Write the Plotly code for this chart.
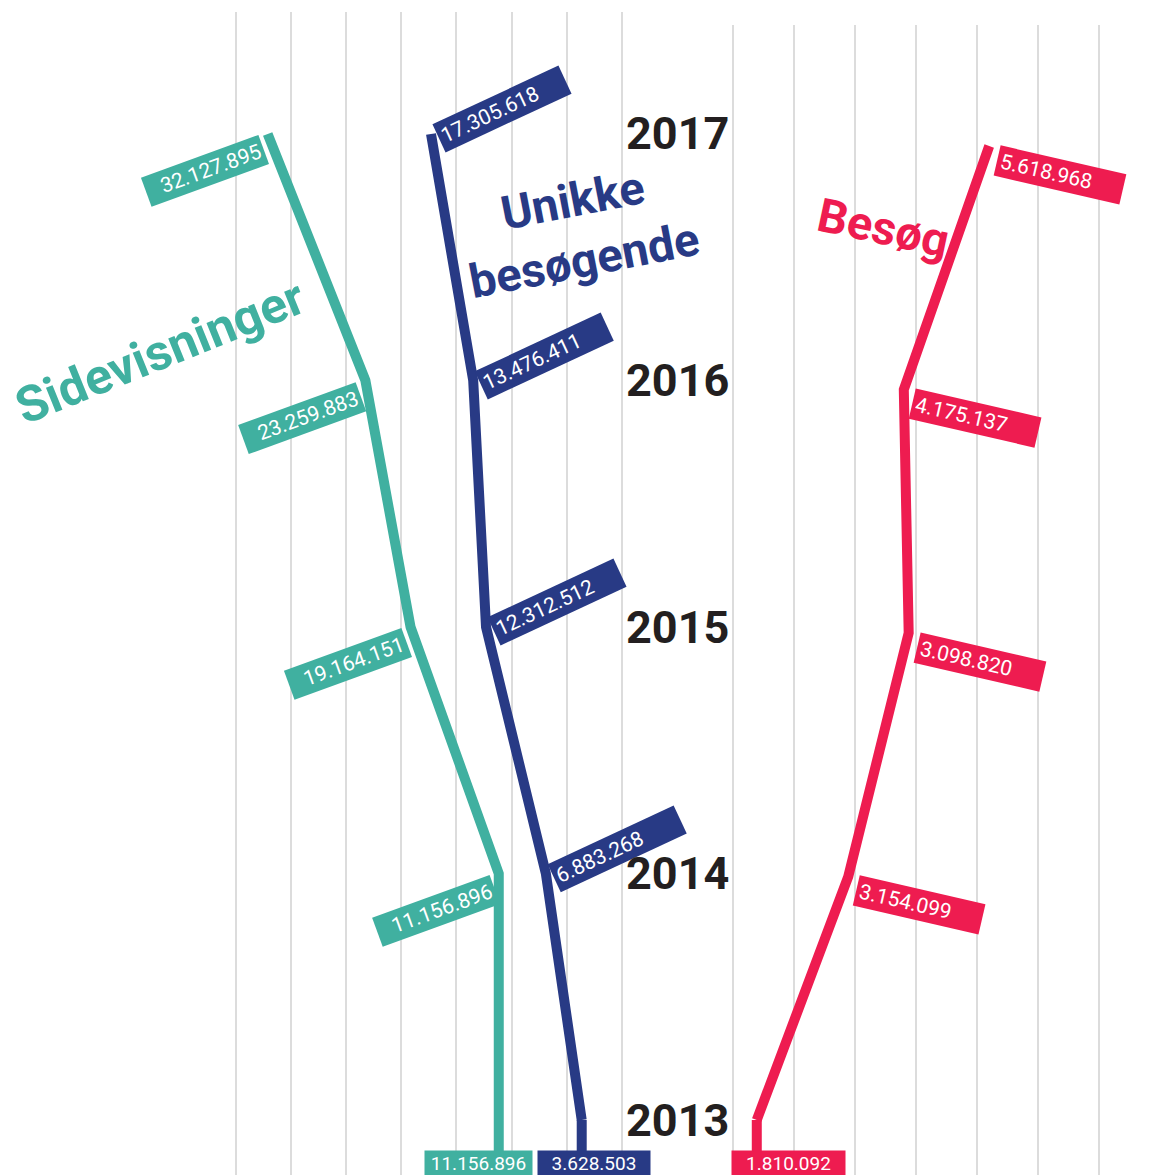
import plotly.graph_objects as go

# ---------------- data ----------------
years = [2013, 2014, 2015, 2016, 2017]
year_labels = ["2013", "2014", "2015", "2016", "2017"]

# Sidevisninger (millions, as drawn)
sidevisninger = [11.157, 11.157, 19.164, 23.260, 32.128]
sidevisninger_labels = ["11.156.896", "11.156.896", "19.164.151", "23.259.883", "32.127.895"]

# Unikke besøgende (millions, as drawn)
unikke = [3.629, 6.883, 12.313, 13.476, 17.306]
unikke_labels = ["3.628.503", "6.883.268", "12.312.512", "13.476.411", "17.305.618"]

# Besøg (millions, positions as drawn in the chart)
besog = [1.80, 3.30, 4.29, 4.21, 5.61]
besog_labels = ["1.810.092", "3.154.099", "3.098.820", "4.175.137", "5.618.968"]

left_ticks = [0, 5, 10, 15, 20, 25, 30, 35]
right_ticks = [1.41, 2.41, 3.41, 4.41, 5.41, 6.41, 7.41]

# ---------------- style ----------------
TEAL = "#40B0A0"
NAVY = "#283A85"
RED = "#EE1C50"
DARK = "#231F20"
GRID = "#DCDCDC"
W, H = 1149, 1175
LABEL_FONT = "Roboto, 'DejaVu Sans Condensed', sans-serif"
TITLE_FONT = "Roboto, 'DejaVu Sans', sans-serif"

y_left_range = [2012.7769, 2017.4949]
y_right_range = [2012.7741, 2017.4969]

fig = go.Figure()

def add_series(vals, color, xa, ya, yrange):
    fig.add_trace(go.Scatter(x=vals, y=years, mode="lines", xaxis=xa, yaxis=ya,
                             line=dict(color=color, width=10), hoverinfo="skip",
                             showlegend=False))
    # vertical stub from 2013 down to the bottom value box
    fig.add_trace(go.Scatter(x=[vals[0], vals[0]], y=[years[0], yrange[0]], mode="lines",
                             xaxis=xa, yaxis=ya, line=dict(color=color, width=10),
                             hoverinfo="skip", showlegend=False))

add_series(sidevisninger, TEAL, "x", "y", y_left_range)
add_series(unikke, NAVY, "x", "y", y_left_range)
add_series(besog, RED, "x2", "y2", y_right_range)

ann = []

def value_labels(vals, labels, color, xref, yref, angle, dx, dy, width, align, bottom_dx, bottom_w):
    for i, (v, t, yr) in enumerate(zip(vals, labels, years)):
        if i == 0:
            ann.append(dict(x=v, y=yr, xref=xref, yref=yref, text=t, showarrow=False,
                            xanchor="center", yanchor="top", xshift=bottom_dx, yshift=-30,
                            bgcolor=color, width=bottom_w, height=22, borderpad=1,
                            valign="middle",
                            font=dict(family=LABEL_FONT, size=19, color="white")))
        else:
            ann.append(dict(x=v, y=yr, xref=xref, yref=yref, text=t, showarrow=False,
                            xanchor="center", yanchor="middle", xshift=dx, yshift=dy,
                            textangle=angle, bgcolor=color, width=width, height=24,
                            borderpad=3, align=align, valign="middle",
                            font=dict(family=LABEL_FONT, size=21, color="white")))

value_labels(sidevisninger, sidevisninger_labels, TEAL, "x", "y", -20, -63, -37, 118, "right", -20, 105)
value_labels(unikke, unikke_labels, NAVY, "x", "y", -25, 71, 25, 132, "left", 12, 110)
value_labels(besog, besog_labels, RED, "x2", "y2", 13, 71, -29, 122, "left", 32, 111)

# year labels
for yr, t in zip(years, year_labels):
    ann.append(dict(x=731 / W, y=yr, xref="paper", yref="y", text="<b>%s</b>" % t,
                    showarrow=False, xanchor="right", yanchor="middle",
                    font=dict(family=TITLE_FONT, size=45, color=DARK)))

# series titles
ann.append(dict(x=160 / W, y=1 - 352 / H, xref="paper", yref="paper",
                text="<b>Sidevisninger</b>", showarrow=False, textangle=-22,
                xanchor="center", yanchor="middle",
                font=dict(family=TITLE_FONT, size=50, color=TEAL)))
ann.append(dict(x=578 / W, y=1 - 230 / H, xref="paper", yref="paper",
                text="<b>Unikke<br>besøgende</b>", showarrow=False, textangle=-11,
                xanchor="center", yanchor="middle",
                font=dict(family=TITLE_FONT, size=47, color=NAVY)))
ann.append(dict(x=883 / W, y=1 - 228 / H, xref="paper", yref="paper",
                text="<b>Besøg</b>", showarrow=False, textangle=12,
                xanchor="center", yanchor="middle",
                font=dict(family=TITLE_FONT, size=47, color=RED)))

axis_common = dict(showticklabels=False, ticks="", zeroline=False, showline=False,
                   gridcolor=GRID, gridwidth=1.5, fixedrange=True)

fig.update_layout(
    width=W, height=H, margin=dict(l=0, r=0, t=0, b=0),
    paper_bgcolor="white", plot_bgcolor="white",
    showlegend=False, annotations=ann,
    xaxis=dict(domain=[226 / W, 632 / W], range=[35.91, -0.935], tickmode="array",
               tickvals=left_ticks, showgrid=True, anchor="y", **axis_common),
    yaxis=dict(domain=[0, 1163 / H], range=y_left_range, showgrid=False, anchor="x",
               **axis_common),
    xaxis2=dict(domain=[725 / W, 1110 / W], range=[1.279, 7.590], tickmode="array",
                tickvals=right_ticks, showgrid=True, anchor="y2", **axis_common),
    yaxis2=dict(domain=[0, 1150 / H], range=y_right_range, showgrid=False, anchor="x2",
                **axis_common),
)

fig.write_html("out.html", config={"displayModeBar": False},
               post_script="document.body.style.margin='0';document.documentElement.style.overflow='hidden';")
